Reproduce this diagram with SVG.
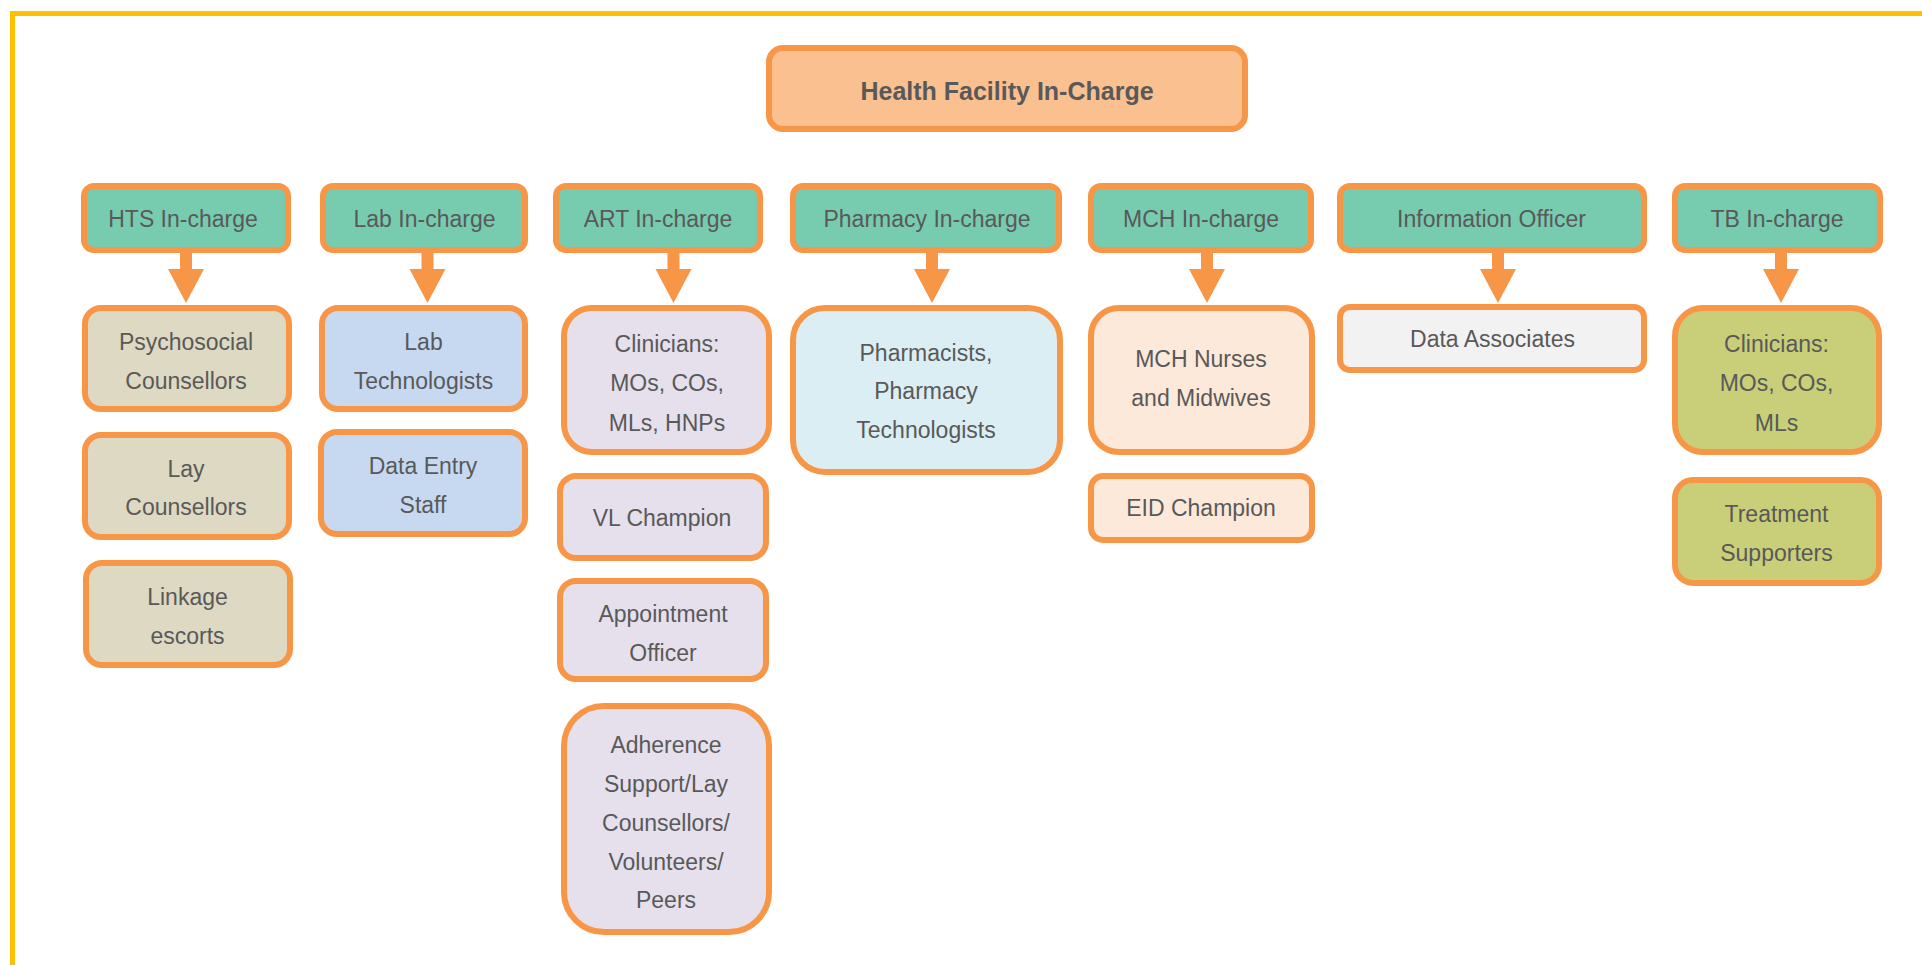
<svg xmlns="http://www.w3.org/2000/svg" width="1922" height="965" viewBox="0 0 1922 965">
<style>
.frame{fill:none;stroke:#FFC000;stroke-width:5}
.box{stroke:#F79646;stroke-width:6}
.hdr{fill:#77CCB0}
.top{fill:#FAC090}
.hts{fill:#DDD9C3}
.lab{fill:#C6D9F1}
.art{fill:#E5E0EC}
.phm{fill:#DBEEF4}
.mch{fill:#FDE9D9}
.inf{fill:#F2F2F2}
.tb{fill:#C9CF79}
text{font-family:"Liberation Sans",Arial,sans-serif;font-size:23px;fill:#595959;text-anchor:middle}
.title{font-weight:bold;font-size:25px}
.arrow{fill:#F79646}
</style>
<rect width="1922" height="965" fill="#FFFFFF"/>
<rect class="frame" x="12.5" y="13.5" width="2000" height="1000"/>

<g id="health-facility-in-charge">
<rect class="box top" x="769" y="48" width="476" height="81" rx="14"/>
<text class="title" x="1007" y="100">Health Facility In-Charge</text>
</g>

<g id="hts-in-charge">
<rect class="box hdr" x="84" y="186" width="204" height="64" rx="10"/>
<text x="183" y="227">HTS In-charge</text>
</g>
<g id="lab-in-charge">
<rect class="box hdr" x="323" y="186" width="202" height="64" rx="10"/>
<text x="424.5" y="227">Lab In-charge</text>
</g>
<g id="art-in-charge">
<rect class="box hdr" x="556" y="186" width="204" height="64" rx="10"/>
<text x="658" y="227">ART In-charge</text>
</g>
<g id="pharmacy-in-charge">
<rect class="box hdr" x="793" y="186" width="266" height="64" rx="10"/>
<text x="927" y="227">Pharmacy In-charge</text>
</g>
<g id="mch-in-charge">
<rect class="box hdr" x="1091" y="186" width="220" height="64" rx="10"/>
<text x="1201" y="227">MCH In-charge</text>
</g>
<g id="information-officer">
<rect class="box hdr" x="1340" y="186" width="304" height="64" rx="10"/>
<text x="1491.5" y="227">Information Officer</text>
</g>
<g id="tb-in-charge">
<rect class="box hdr" x="1675" y="186" width="205" height="64" rx="10"/>
<text x="1777" y="227">TB In-charge</text>
</g>

<g id="psychosocial-counsellors">
<rect class="box hts" x="85" y="308" width="204" height="101" rx="16"/>
<text x="186" y="350">Psychosocial</text>
<text x="186" y="389">Counsellors</text>
</g>
<g id="lay-counsellors">
<rect class="box hts" x="85" y="435" width="204" height="102" rx="16"/>
<text x="186" y="477">Lay</text>
<text x="186" y="515">Counsellors</text>
</g>
<g id="linkage-escorts">
<rect class="box hts" x="86" y="563" width="204" height="102" rx="16"/>
<text x="187.5" y="605">Linkage</text>
<text x="187.5" y="644">escorts</text>
</g>

<g id="lab-technologists">
<rect class="box lab" x="322" y="308" width="203" height="101" rx="16"/>
<text x="423.5" y="350">Lab</text>
<text x="423.5" y="389">Technologists</text>
</g>
<g id="data-entry-staff">
<rect class="box lab" x="321" y="432" width="204" height="102" rx="16"/>
<text x="423" y="474">Data Entry</text>
<text x="423" y="513">Staff</text>
</g>

<g id="art-clinicians">
<rect class="box art" x="564" y="308" width="205" height="144" rx="28"/>
<text x="667" y="352">Clinicians:</text>
<text x="667" y="391">MOs, COs,</text>
<text x="667" y="431">MLs, HNPs</text>
</g>
<g id="vl-champion">
<rect class="box art" x="560" y="476" width="206" height="82" rx="16"/>
<text x="662" y="526">VL Champion</text>
</g>
<g id="appointment-officer">
<rect class="box art" x="560" y="581" width="206" height="98" rx="16"/>
<text x="663" y="622">Appointment</text>
<text x="663" y="661">Officer</text>
</g>
<g id="adherence-support">
<rect class="box art" x="564" y="706" width="205" height="226" rx="40"/>
<text x="666" y="753">Adherence</text>
<text x="666" y="792">Support/Lay</text>
<text x="666" y="831">Counsellors/</text>
<text x="666" y="870">Volunteers/</text>
<text x="666" y="908">Peers</text>
</g>

<g id="pharmacists">
<rect class="box phm" x="793" y="308" width="267" height="164" rx="32"/>
<text x="926" y="361">Pharmacists,</text>
<text x="926" y="399">Pharmacy</text>
<text x="926" y="438">Technologists</text>
</g>

<g id="mch-nurses">
<rect class="box mch" x="1091" y="308" width="221" height="144" rx="28"/>
<text x="1201" y="367">MCH Nurses</text>
<text x="1201" y="406">and Midwives</text>
</g>
<g id="eid-champion">
<rect class="box mch" x="1091" y="476" width="221" height="64" rx="12"/>
<text x="1201" y="516">EID Champion</text>
</g>

<g id="data-associates">
<rect class="box inf" x="1340" y="307" width="304" height="63" rx="10"/>
<text x="1492.5" y="347">Data Associates</text>
</g>

<g id="tb-clinicians">
<rect class="box tb" x="1675" y="308" width="204" height="144" rx="28"/>
<text x="1776.5" y="352">Clinicians:</text>
<text x="1776.5" y="391">MOs, COs,</text>
<text x="1776.5" y="431">MLs</text>
</g>
<g id="treatment-supporters">
<rect class="box tb" x="1675" y="480" width="204" height="103" rx="18"/>
<text x="1776.5" y="522">Treatment</text>
<text x="1776.5" y="561">Supporters</text>
</g>

<g id="connectors">
<path class="arrow" d="M180,252 h12 v17 h12 l-18,34 l-18,-34 h12 z"/>
<path class="arrow" d="M421.5,252 h12 v17 h12 l-18,34 l-18,-34 h12 z"/>
<path class="arrow" d="M667.5,252 h12 v17 h12 l-18,34 l-18,-34 h12 z"/>
<path class="arrow" d="M926,252 h12 v17 h12 l-18,34 l-18,-34 h12 z"/>
<path class="arrow" d="M1201,252 h12 v17 h12 l-18,34 l-18,-34 h12 z"/>
<path class="arrow" d="M1492,252 h12 v17 h12 l-18,34 l-18,-34 h12 z"/>
<path class="arrow" d="M1775,252 h12 v17 h12 l-18,34 l-18,-34 h12 z"/>
</g>
</svg>
